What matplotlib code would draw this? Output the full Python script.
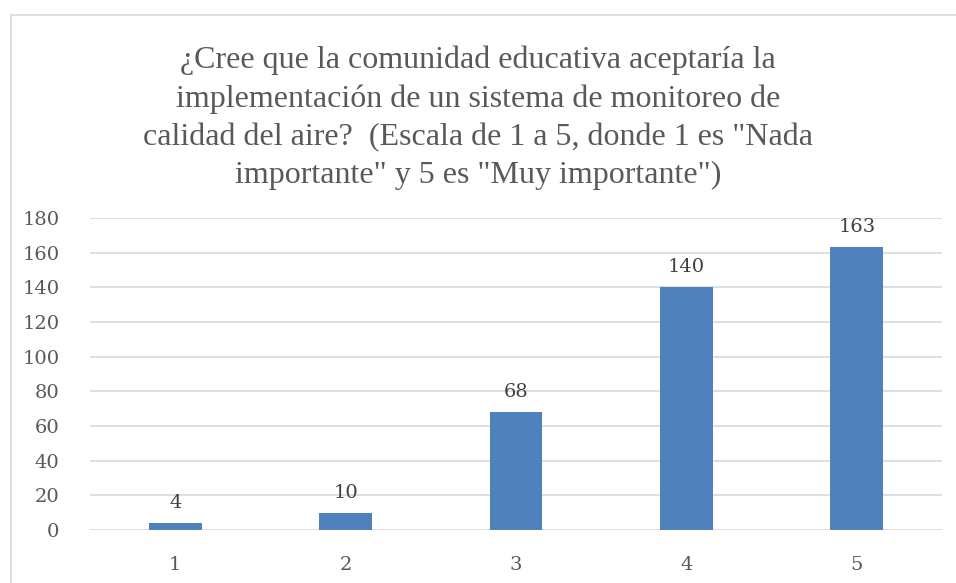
import matplotlib.pyplot as plt
from matplotlib.patches import Rectangle

categories = ['1', '2', '3', '4', '5']
values = [4, 10, 68, 140, 163]
yticks = [0, 20, 40, 60, 80, 100, 120, 140, 160, 180]
title = ('¿Cree que la comunidad educativa aceptaría la\n'
         'implementación de un sistema de monitoreo de\n'
         'calidad del aire?  (Escala de 1 a 5, donde 1 es "Nada\n'
         'importante" y 5 es "Muy importante")')

W, H = 956, 583
fig = plt.figure(figsize=(W / 100, H / 100), dpi=100)
plt.rcParams['font.family'] = ['DejaVu Serif']

# chart frame (right/bottom edges cut off in the original)
fig.patches.append(Rectangle((11 / W, -0.05), 1.2, 1 - 15 / H + 0.05,
                             transform=fig.transFigure, fill=False,
                             edgecolor='#d9d9d9', linewidth=1.2))

ax = fig.add_axes([90 / W, (H - 530) / H, (942 - 90) / W, (530 - 218) / H])
x = range(len(categories))
bars = ax.bar(x, values, width=0.31, color='#4f81bd', zorder=3)
ax.set_xlim(-0.5, len(categories) - 0.5)
ax.set_ylim(0, 180)
ax.set_yticks(yticks)
ax.set_xticks(list(x))
ax.set_xticklabels(categories)
ax.grid(axis='y', color='#d9d9d9', linewidth=1.2, zorder=0)
for s in ax.spines.values():
    s.set_visible(False)
ax.tick_params(length=0, labelsize=14, labelcolor='#595959')
ax.tick_params(axis='x', pad=19)
ax.tick_params(axis='y', pad=22)
for rect, v in zip(bars, values):
    ax.annotate(str(v), (rect.get_x() + rect.get_width() / 2, v),
                xytext=(0, 8), textcoords='offset points', ha='center',
                va='bottom', fontsize=14, color='#404040')

fig.text(0.5, 1 - 118 / H, title, ha='center', va='center', fontsize=23,
         color='#595959', linespacing=1.4, family='Liberation Serif')

fig.savefig('out.png', dpi=100)
